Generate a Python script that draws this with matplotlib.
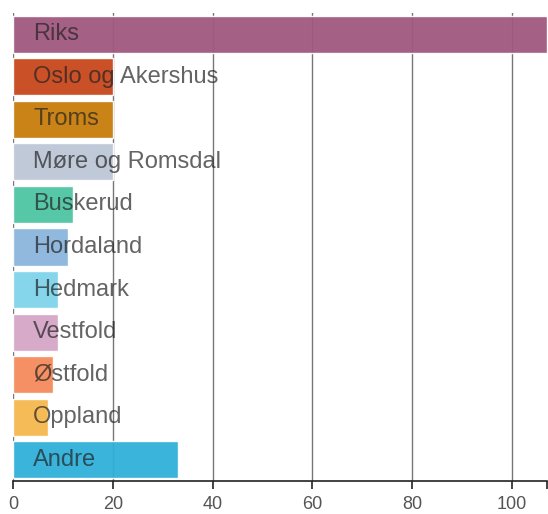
import matplotlib
matplotlib.use("Agg")
import matplotlib.pyplot as plt
from matplotlib.ticker import FixedLocator

categories = ["Riks", "Oslo og Akershus", "Troms", "Møre og Romsdal", "Buskerud",
              "Hordaland", "Hedmark", "Vestfold", "Østfold", "Oppland", "Andre"]
values = [107, 20, 20, 20, 12, 11, 9, 9, 8, 7, 33]
colors = ["#a0587f", "#c8461c", "#c87c0a", "#bcc6d6", "#4ec5a2", "#8ab6dc",
          "#7fd3ea", "#d6a6c8", "#f48a5c", "#f4b84e", "#2fb0d8"]
xticks = [0, 20, 40, 60, 80, 100]
xmax = 107

plt.rcParams['font.family'] = ['Liberation Sans', 'DejaVu Sans']

fig = plt.figure(figsize=(5.48, 5.14), dpi=100)
ax = fig.add_axes([13/548, 33/514, 534/548, 468/514])

ypos = list(range(len(categories)))
ax.barh(ypos, values, height=0.87, color=colors, alpha=0.95,
        edgecolor="white", linewidth=1, zorder=2)
for y, name in zip(ypos, categories):
    ax.annotate(name, xy=(0, y), xytext=(20, 0), textcoords="offset pixels",
                va="center", ha="left", fontsize=17, color="#222222",
                alpha=0.7, zorder=3)

ax.set_xlim(0, xmax)
ax.set_ylim(len(categories) - 0.5, -0.5)
ax.set_xticks(xticks)
ax.xaxis.set_minor_locator(FixedLocator([xmax]))
ax.set_yticks([])
for x in xticks:
    ax.axvline(x, color="#777777", linewidth=1, zorder=0)

for s in ["top", "right", "left"]:
    ax.spines[s].set_visible(False)
ax.spines["bottom"].set_color("#222222")
ax.spines["bottom"].set_linewidth(1.2)
ax.tick_params(axis="x", which="both", length=6, width=1.2, color="#222222",
               labelsize=13, labelcolor="#555555", pad=5)
ax.tick_params(axis="x", which="minor", labelbottom=False)

fig.savefig("out.png", dpi=100)
